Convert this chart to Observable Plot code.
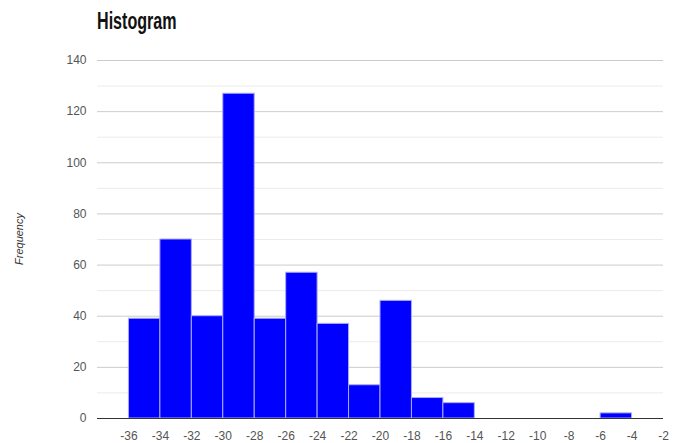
<!DOCTYPE html>
<html>
<head>
<meta charset="utf-8">
<script src="https://cdn.jsdelivr.net/npm/d3@7"></script>
<script src="https://cdn.jsdelivr.net/npm/@observablehq/plot@0.6"></script>
<style>
  body { margin: 0; background: #fff; }
  #wrap { width: 680px; height: 443px; position: relative; overflow: hidden; }
  #title { position: absolute; left: 97px; top: 8px; font-family: "Liberation Sans", Arial, sans-serif; font-weight: bold; font-size: 23px; color: #111; transform: scaleX(0.7); transform-origin: left top; }
  #chart { position: absolute; left: 0; top: 45px; }
  #ylab { position: absolute; left: 19px; top: 239px; width: 0; height: 0; }
  #ylab span { position: absolute; left: 0; top: 0; transform: translate(-50%, -50%) rotate(-90deg); white-space: nowrap; font-family: "Liberation Sans", Arial, sans-serif; font-style: italic; font-size: 11px; color: #333; }
  svg text { font-family: "Liberation Sans", Arial, sans-serif; }
</style>
</head>
<body>
<div id="wrap">
  <div id="title">Histogram</div>
  <div id="ylab"><span>Frequency</span></div>
  <div id="chart"></div>
</div>
<script>
const binStart = [-36, -34, -32, -30, -28, -26, -24, -22, -20, -18, -16, -6];
const binEnd   = [-34, -32, -30, -28, -26, -24, -22, -20, -18, -16, -14, -4];
const counts   = [39, 70, 40, 127, 39, 57, 37, 13, 46, 8, 6, 2];
const xTicks = d3.range(-36, -1, 2);
const yMajor = [0, 20, 40, 60, 80, 100, 120, 140];
const yMinor = [10, 30, 50, 70, 90, 110, 130];

const bins = binStart.map((s, i) => ({x1: s, x2: binEnd[i], y: counts[i]}));

const plot = Plot.plot({
  width: 680,
  height: 398,
  marginLeft: 97,
  marginRight: 17,
  marginTop: 15,
  marginBottom: 25,
  x: {domain: [-38, -2], ticks: xTicks, tickSize: 0, tickPadding: 13, tickFormat: d => String(d), label: null},
  y: {domain: [0, 140], ticks: yMajor, tickSize: 0, tickPadding: 11, tickFormat: d => String(d), label: null},
  style: {fontSize: "12px", color: "#555"},
  marks: [
    Plot.ruleY(yMinor, {stroke: "#ebebeb"}),
    Plot.ruleY(yMajor.filter(d => d > 0), {stroke: "#cccccc"}),
    Plot.rectY(bins, {x1: "x1", x2: "x2", y: "y", fill: "#0000ff", stroke: "#aaaaff", strokeWidth: 1}),
    Plot.ruleY([0], {stroke: "#333"})
  ]
});
document.getElementById("chart").appendChild(plot);
</script>
</body>
</html>
